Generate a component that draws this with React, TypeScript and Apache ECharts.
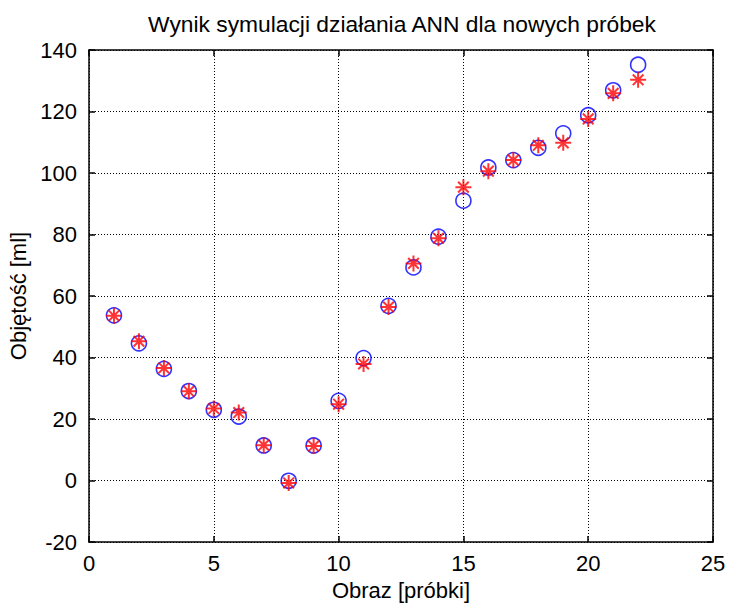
import React, { useEffect, useRef } from "react";
import * as echarts from "echarts";

const sampleIndex = [1, 2, 3, 4, 5, 6, 7, 8, 9, 10, 11, 12, 13, 14, 15, 16, 17, 18, 19, 20, 21, 22];
const targetValues = [53.7, 44.6, 36.3, 29.1, 23.0, 20.8, 11.4, -0.1, 11.4, 25.9, 39.8, 56.8, 69.3, 79.3, 91.0, 101.8, 104.2, 108.2, 112.9, 118.8, 126.9, 135.2];
const annValues = [53.6, 45.3, 36.6, 29.0, 23.4, 22.1, 11.5, -0.8, 11.2, 24.8, 37.9, 56.4, 70.6, 78.8, 95.4, 100.6, 104.2, 109.0, 109.8, 117.6, 125.9, 130.3];

const FONT = "'Liberation Sans', Arial, Helvetica, sans-serif";
const STAR = "path://M0,-9L0,9M-9,0L9,0M-6,-6L6,6M-6,6L6,-6";

export default function App() {
  const ref = useRef<HTMLDivElement>(null);
  useEffect(() => {
    if (!ref.current) return;
    const chart = echarts.init(ref.current, undefined, { renderer: "svg" });
    const axisCommon = {
      axisLine: { show: true, onZero: false, lineStyle: { color: "#000", width: 1.5 } },
      axisTick: { show: true, inside: true, length: 6, lineStyle: { color: "#000", width: 1.5 } },
    };
    chart.setOption({
      animation: false,
      backgroundColor: "#fff",
      title: {
        text: "Wynik symulacji działania ANN dla nowych próbek",
        left: 397,
        textAlign: "center",
        top: 7,
        textStyle: { fontFamily: FONT, fontSize: 22.8, fontWeight: "normal", color: "#000" },
      },
      grid: { left: 89, right: 16, top: 50, bottom: 63, containLabel: false, outerBoundsMode: "none" },
      xAxis: [
        {
          type: "value",
          min: 0,
          max: 25,
          interval: 5,
          ...axisCommon,
          axisLabel: { fontFamily: FONT, fontSize: 22, color: "#000", margin: 10 },
          splitLine: { show: true, lineStyle: { color: "#000", type: [1, 2], width: 1 } },
          name: "Obraz [próbki]",
          nameLocation: "middle",
          nameGap: 37,
          nameTextStyle: { fontFamily: FONT, fontSize: 22, color: "#000" },
        },
        {
          type: "value",
          position: "top",
          min: 0,
          max: 25,
          interval: 5,
          ...axisCommon,
          axisLabel: { show: false },
          splitLine: { show: false },
        },
      ],
      yAxis: [
        {
          type: "value",
          min: -20,
          max: 140,
          interval: 20,
          ...axisCommon,
          axisLabel: { fontFamily: FONT, fontSize: 22, color: "#000", margin: 12 },
          splitLine: { show: true, lineStyle: { color: "#000", type: [1, 2], width: 1 } },
          name: "Objętość [ml]",
          nameLocation: "middle",
          nameGap: 57,
          nameTextStyle: { fontFamily: FONT, fontSize: 22, color: "#000" },
        },
        {
          type: "value",
          position: "right",
          min: -20,
          max: 140,
          interval: 20,
          ...axisCommon,
          axisLabel: { show: false },
          splitLine: { show: false },
        },
      ],
      series: [
        {
          type: "scatter",
          name: "target",
          data: sampleIndex.map((x, i) => [x, targetValues[i]]),
          symbol: "circle",
          symbolSize: 15,
          itemStyle: { color: "rgba(0,0,0,0)", borderColor: "#0000ff", borderWidth: 1.6 },
          z: 3,
        },
        {
          type: "scatter",
          name: "ANN",
          data: sampleIndex.map((x, i) => [x, annValues[i]]),
          symbol: STAR,
          symbolSize: 16,
          itemStyle: { color: "rgba(0,0,0,0)", borderColor: "#ff0000", borderWidth: 2 },
          z: 4,
        },
      ],
    });
    return () => chart.dispose();
  }, []);
  return <div ref={ref} style={{ width: 729, height: 605, position: "absolute", left: 0, top: 0 }} />;
}
